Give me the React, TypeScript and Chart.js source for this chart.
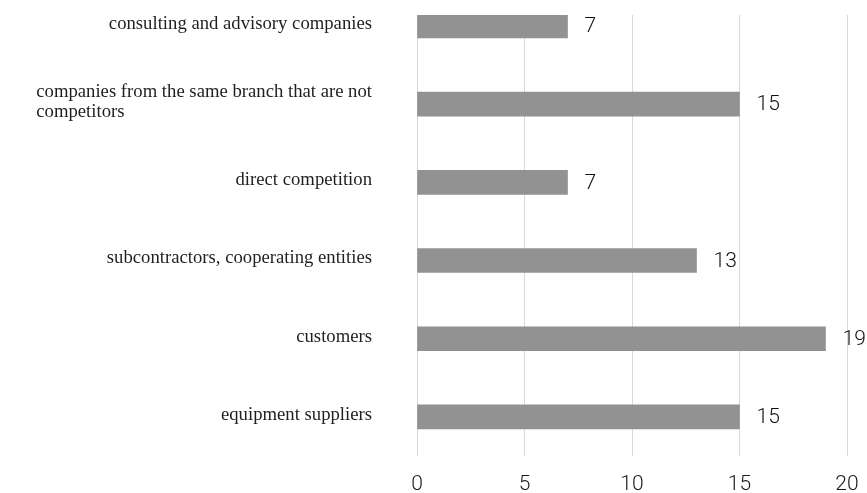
import { useEffect, useRef } from 'react';
import { Chart, registerables } from 'chart.js';

Chart.register(...registerables);

const categories: (string | string[])[] = [
  'consulting and advisory companies',
  ['companies from the same branch that are not', 'competitors'],
  'direct competition',
  'subcontractors, cooperating entities',
  'customers',
  'equipment suppliers',
];
const values = [7, 15, 7, 13, 19, 15];
const xMin = 0;
const xMax = 20;
const xStep = 5;

const LABEL_FONT = '18.7px "Liberation Serif", "Times New Roman", serif';
const NUM_FAMILY = 'Roboto, "Liberation Sans", sans-serif';
const VALUE_FONT = `300 21px ${NUM_FAMILY}`;

const categoryLabels = {
  id: 'categoryLabels',
  afterDraw(chart: any) {
    const { ctx, chartArea, scales } = chart;
    const yScale = scales.y;
    ctx.save();
    ctx.font = LABEL_FONT;
    ctx.fillStyle = '#1f1f1f';
    ctx.textBaseline = 'middle';
    ctx.textAlign = 'left';
    const right = chartArea.left - 45;
    const lh = 20;
    categories.forEach((label, i) => {
      const cy = yScale.getPixelForValue(i) - 2;
      const lines = Array.isArray(label) ? label : [label];
      const widest = Math.max(...lines.map((l) => ctx.measureText(l).width));
      lines.forEach((line, j) => {
        ctx.fillText(line, right - widest, cy + (j - (lines.length - 1) / 2) * lh);
      });
    });
    ctx.restore();
  },
};

const valueLabels = {
  id: 'valueLabels',
  afterDatasetsDraw(chart: any) {
    const { ctx } = chart;
    const meta = chart.getDatasetMeta(0);
    ctx.save();
    ctx.font = VALUE_FONT;
    ctx.fillStyle = '#111111';
    ctx.textBaseline = 'middle';
    ctx.textAlign = 'left';
    meta.data.forEach((bar: any, i: number) => {
      ctx.fillText(String(values[i]), bar.x + 17, bar.y + 1);
    });
    ctx.restore();
  },
};

export default function App() {
  const ref = useRef<HTMLCanvasElement>(null);
  useEffect(() => {
    if (!ref.current) return;
    const chart = new Chart(ref.current, {
      type: 'bar',
      data: {
        datasets: [
          {
            data: values.map((v, i) => ({ x: v, y: i })),
            backgroundColor: '#929292',
            borderWidth: 0,
            barThickness: 24,
          },
        ],
      },
      options: {
        indexAxis: 'y',
        animation: false,
        responsive: false,
        layout: { padding: { left: 417, right: 20, top: 15, bottom: -20 } },
        plugins: { legend: { display: false }, tooltip: { enabled: false } },
        scales: {
          x: {
            type: 'linear',
            min: xMin,
            max: xMax,
            afterFit: (scale: any) => {
              scale.paddingRight = 0;
              scale.paddingLeft = 0;
            },
            ticks: {
              stepSize: xStep,
              padding: 18,
              color: '#1a1a1a',
              font: { family: NUM_FAMILY, size: 21, weight: '300', lineHeight: 1 },
            },
            grid: { color: '#d9d9d9', lineWidth: 1, drawTicks: false },
            border: { display: false },
          },
          y: {
            type: 'linear',
            reverse: true,
            min: -0.14,
            max: 5.5,
            offset: false,
            bounds: 'data',
            grace: 0,
            display: false,
          },
        },
      },
      plugins: [categoryLabels, valueLabels],
    } as any);
    return () => chart.destroy();
  }, []);
  return (
    <div style={{ position: 'fixed', left: 0, top: 0, width: 867, height: 493, background: '#fff' }}>
      <canvas ref={ref} width={867} height={493} style={{ display: 'block' }} />
    </div>
  );
}
